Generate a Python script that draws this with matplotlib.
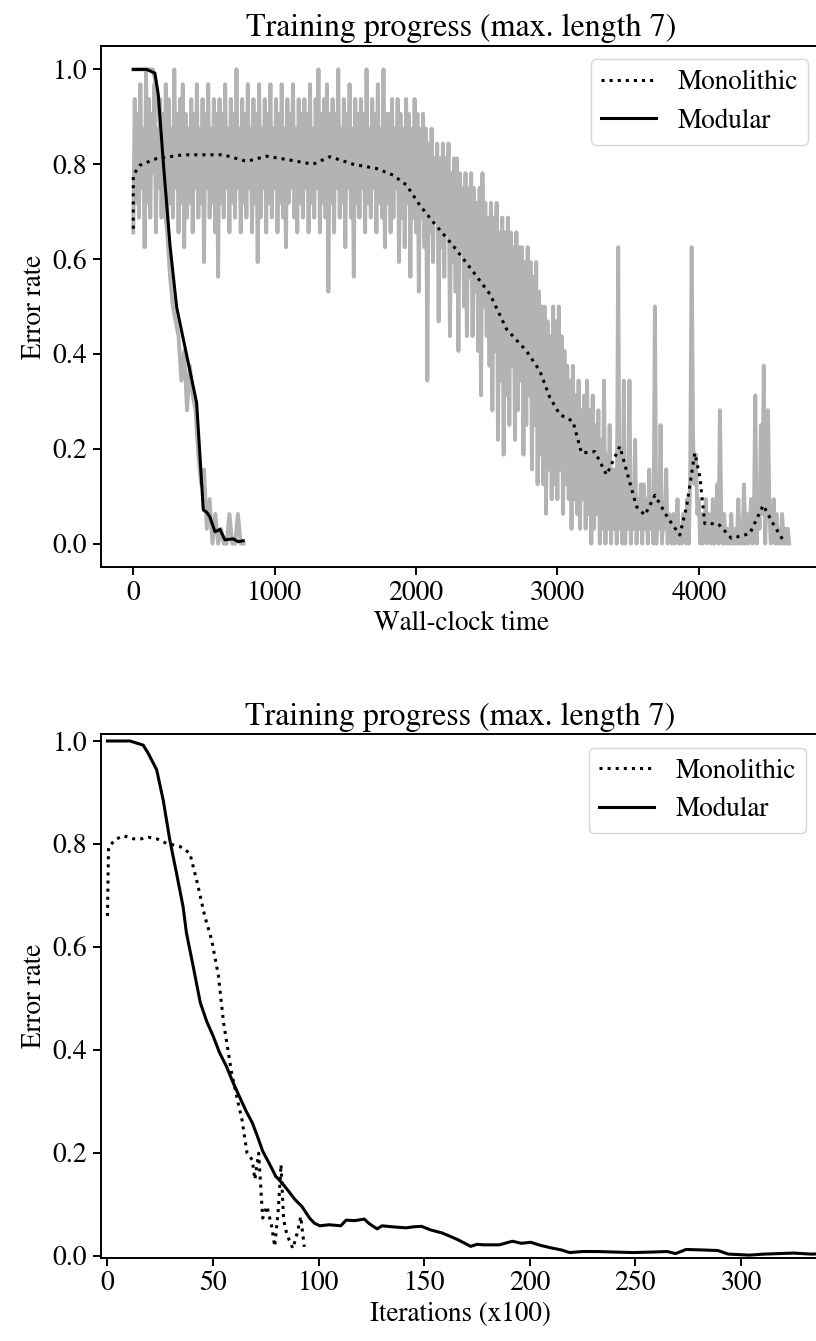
import matplotlib
matplotlib.use("Agg")
import matplotlib.pyplot as plt
import numpy as np

# ---- data ----
# raw monolithic errors: wrong answers out of a batch of 32, one value every 10 time units
batch_size = 32
mono_raw_step = 10
mono_raw_wrong = [
    21, 30, 23, 29, 22, 31, 24, 28, 20, 32, 23, 30, 22, 29, 25, 31, 21, 28, 24, 30,
    22, 29, 24, 31, 21, 30, 23, 28, 22, 32, 24, 29, 21, 30, 23, 31, 20, 29, 22, 28,
    23, 30, 21, 29, 24, 31, 22, 28, 23, 30, 19, 29, 24, 31, 22, 28, 23, 30, 21, 29,
    18, 30, 23, 29, 22, 31, 24, 28, 21, 30, 23, 29, 22, 32, 24, 28, 21, 30, 23, 29,
    22, 31, 24, 28, 21, 30, 23, 29, 19, 31, 22, 28, 24, 30, 21, 29, 23, 31, 22, 28,
    24, 30, 21, 29, 23, 31, 22, 28, 20, 30, 23, 29, 24, 31, 22, 28, 21, 30, 23, 29,
    22, 30, 24, 29, 21, 31, 23, 28, 22, 30, 24, 32, 21, 29, 23, 30, 22, 31, 17, 29,
    23, 30, 21, 29, 24, 32, 22, 28, 23, 30, 20, 29, 24, 31, 22, 28, 18, 30, 23, 29,
    22, 30, 24, 29, 21, 32, 23, 28, 22, 30, 24, 29, 21, 31, 23, 28, 22, 32, 20, 29,
    23, 29, 21, 30, 22, 28, 24, 30, 19, 29, 22, 28, 20, 30, 23, 29, 18, 28, 22, 30,
    21, 29, 17, 28, 22, 29, 20, 28, 11, 27, 21, 28, 19, 26, 22, 27, 15, 26, 20, 27,
    18, 26, 21, 27, 14, 25, 19, 26, 17, 26, 13, 25, 20, 24, 16, 25, 14, 24, 18, 25,
    14, 24, 17, 23, 13, 24, 10, 25, 16, 23, 14, 22, 12, 23, 9, 22, 13, 23, 7, 21,
    11, 22, 6, 21, 10, 22, 8, 21, 12, 20, 7, 21, 9, 20, 11, 20, 6, 19, 8, 20,
    10, 19, 5, 18, 8, 19, 4, 17, 6, 16, 4, 16, 2, 15, 5, 14, 3, 16, 4, 15,
    3, 16, 5, 14, 2, 13, 4, 12, 3, 11, 1, 12, 3, 10, 2, 11, 1, 9, 3, 10,
    1, 11, 2, 9, 0, 10, 1, 8, 2, 9, 0, 7, 1, 11, 0, 6, 1, 8, 0, 5,
    1, 5, 0, 20, 1, 6, 0, 11, 0, 5, 1, 11, 0, 4, 1, 7, 0, 3, 1, 4,
    0, 4, 1, 3, 0, 5, 1, 2, 0, 16, 0, 3, 1, 8, 0, 2, 1, 5, 0, 2,
    1, 0, 2, 0, 1, 3, 0, 1, 0, 2, 1, 0, 3, 0, 5, 20, 7, 4, 6, 2,
    3, 0, 2, 0, 1, 3, 0, 2, 1, 0, 3, 0, 1, 4, 0, 9, 1, 0, 2, 0,
    1, 0, 0, 2, 0, 1, 0, 0, 3, 0, 1, 0, 4, 0, 2, 0, 1, 3, 0, 1,
    10, 0, 3, 1, 8, 2, 12, 0, 4, 9, 2, 0, 1, 3, 0, 2, 0, 1, 0, 2,
    0, 1, 0, 1, 0,
]

# raw modular errors (out of 32), one value every 20 time units
mod_raw_step = 20
mod_raw_wrong = [
    32, 32, 32, 32, 32, 32, 32, 32, 31, 29,
    27, 23, 21, 18, 16, 15, 14, 11, 13, 9,
    12, 10, 9, 6, 4, 5, 1, 3, 0, 2,
    0, 1, 0, 0, 2, 0, 0, 2, 0, 0,
]

# smoothed curves vs wall-clock time
mono_time = [0, 0, 47, 165, 352, 495, 636, 802, 943, 1085, 1272, 1391, 1555,
             1721, 1838, 1933, 2028, 2122, 2263, 2400, 2523, 2641, 2782, 2876,
             2947, 3018, 3110, 3171, 3265, 3348, 3442, 3501, 3560, 3619, 3690,
             3784, 3866, 3914, 3972, 4008, 4043, 4137, 4232, 4361, 4456, 4526,
             4597]
mono_time_err = [0.664, 0.777, 0.798, 0.812, 0.82, 0.82, 0.82, 0.806, 0.817,
                 0.81, 0.80, 0.816, 0.80, 0.791, 0.777, 0.756, 0.713, 0.678,
                 0.628, 0.575, 0.526, 0.452, 0.406, 0.364, 0.308, 0.272, 0.258,
                 0.191, 0.194, 0.145, 0.205, 0.141, 0.078, 0.06, 0.102, 0.053,
                 0.018, 0.078, 0.191, 0.141, 0.042, 0.042, 0.011, 0.021, 0.081,
                 0.042, 0.007]

mod_time = [0, 94, 153, 177, 212, 260, 307, 354, 448, 472, 495, 520, 542, 578,
            613, 648, 707, 743, 778]
mod_time_err = [1.0, 1.0, 0.992, 0.946, 0.805, 0.628, 0.498, 0.431, 0.297,
                0.183, 0.071, 0.066, 0.056, 0.025, 0.03, 0.008, 0.01, 0.004,
                0.006]

# smoothed curves vs iterations (x100)
mono_iter = [0, 0.5, 3.5, 7.5, 12.2, 16.2, 19.3, 23.3, 28, 34.3, 39, 42.2,
             46.1, 49.3, 52.5, 55, 58.8, 61.2, 63.7, 66.1, 68.6, 69.8, 71.6,
             73.5, 75.5, 77.7, 79.2, 80.9, 82.2, 83.4, 85, 87.8, 90, 91.5, 93.2]
mono_iter_err = [0.66, 0.793, 0.808, 0.816, 0.81, 0.81, 0.813, 0.81, 0.801,
                 0.795, 0.782, 0.73, 0.659, 0.614, 0.545, 0.452, 0.355, 0.309,
                 0.264, 0.199, 0.186, 0.148, 0.199, 0.073, 0.096, 0.058, 0.018,
                 0.09, 0.177, 0.07, 0.04, 0.014, 0.046, 0.076, 0.017]

mod_iter = [0, 10.6, 16.9, 19.3, 23.3, 26.4, 29.5, 32.7, 35.8, 37.4, 40.6,
            43.3, 44, 47, 50.1, 53, 56.3, 59.5, 62.5, 65.5, 68.6, 71, 73.5,
            76.5, 79.7, 82.5, 85.8, 89, 92, 95.7, 98, 100.6, 105, 110.5, 113,
            117, 121.6, 124, 127.7, 130, 135, 141.3, 145, 148.7, 153, 158.5,
            162, 165.9, 172, 175, 178.2, 185.6, 191.7, 196, 200.4, 205, 210.2,
            215, 218.8, 225, 232, 240, 249, 258, 265, 269, 274, 282, 289, 294,
            304, 311, 318, 325, 333, 342]
mod_iter_err = [1.0, 1.0, 0.992, 0.976, 0.944, 0.885, 0.808, 0.743, 0.678,
                0.627, 0.562, 0.505, 0.491, 0.455, 0.426, 0.395, 0.368, 0.336,
                0.309, 0.282, 0.258, 0.232, 0.203, 0.18, 0.154, 0.142, 0.125,
                0.108, 0.096, 0.073, 0.063, 0.058, 0.06, 0.058, 0.069, 0.068,
                0.071, 0.062, 0.052, 0.058, 0.056, 0.054, 0.056, 0.057, 0.05,
                0.044, 0.038, 0.031, 0.018, 0.022, 0.021, 0.021, 0.028, 0.024,
                0.026, 0.02, 0.015, 0.011, 0.006, 0.008, 0.008, 0.007, 0.006,
                0.007, 0.008, 0.004, 0.012, 0.011, 0.01, 0.003, 0.001, 0.003,
                0.004, 0.005, 0.003, 0.004]

title = "Training progress (max. length 7)"

plt.rcParams["font.family"] = "STIXGeneral"
plt.rcParams["mathtext.fontset"] = "stix"

fs_tick = 20
fs_label = 19.5
fs_title = 23
fs_legend = 19.5
lw_data = 2.2
lw_axis = 1.4

fig = plt.figure(figsize=(8.16, 13.41), dpi=100)
W, H = 816.0, 1341.0


def make_axes(left, right, top, bottom):
    return fig.add_axes([left / W, 1 - bottom / H, (right - left) / W, (bottom - top) / H])


def style(ax):
    for s in ax.spines.values():
        s.set_linewidth(lw_axis)
    ax.tick_params(labelsize=fs_tick, length=6, width=lw_axis)
    ax.set_ylabel("Error rate", fontsize=fs_label)
    ax.set_title(title, fontsize=fs_title, pad=7)
    ax.set_yticks([0.0, 0.2, 0.4, 0.6, 0.8, 1.0])


# top: wall-clock time
ax1 = make_axes(100.5, 822, 45.7, 567.3)
t_mono_raw = np.arange(len(mono_raw_wrong)) * mono_raw_step
t_mod_raw = np.arange(len(mod_raw_wrong)) * mod_raw_step
ax1.plot(t_mono_raw, np.array(mono_raw_wrong) / batch_size, color="0.7", linewidth=2.8)
ax1.plot(t_mod_raw, np.array(mod_raw_wrong) / batch_size, color="0.7", linewidth=2.8)
ax1.plot(mono_time, mono_time_err, color="black", linestyle=":", linewidth=lw_data, label="Monolithic")
ax1.plot(mod_time, mod_time_err, color="black", linestyle="-", linewidth=lw_data, label="Modular")
ax1.set_xlim(-232, 4872)
ax1.set_ylim(-0.05, 1.05)
ax1.set_xticks([0, 1000, 2000, 3000, 4000])
ax1.set_xlabel("Wall-clock time", fontsize=fs_label)
style(ax1)
ax1.legend(loc="upper right", fontsize=fs_legend)

# bottom: iterations
ax2 = make_axes(100.5, 820, 734.3, 1257.7)
ax2.plot(mono_iter, mono_iter_err, color="black", linestyle=":", linewidth=lw_data, label="Monolithic")
ax2.plot(mod_iter, mod_iter_err, color="black", linestyle="-", linewidth=lw_data, label="Modular")
ax2.set_xlim(-3.3, 337.4)
ax2.set_ylim(-0.004, 1.013)
ax2.set_xticks([0, 50, 100, 150, 200, 250, 300])
ax2.set_xlabel("Iterations (x100)", fontsize=fs_label)
style(ax2)
ax2.legend(loc="upper right", fontsize=fs_legend)

fig.savefig("out.png", dpi=100)
